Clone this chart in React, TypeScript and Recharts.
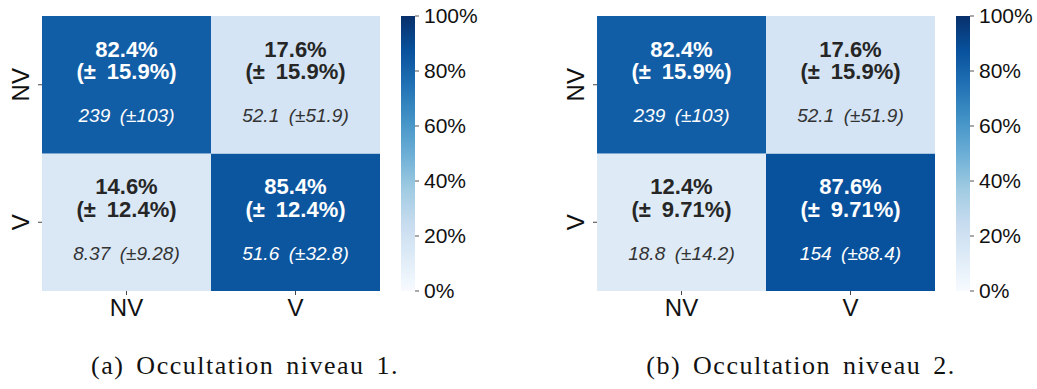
import React from "react";
import { BarChart, Bar, XAxis, YAxis } from "recharts";

const classes = ["NV", "V"];

// rows = true class, columns = predicted class
const pctA = [
  [82.4, 17.6],
  [14.6, 85.4],
];
const pctErrA = [
  [15.9, 15.9],
  [12.4, 12.4],
];
const countA = [
  [239, 52.1],
  [8.37, 51.6],
];
const countErrA = [
  [103, 51.9],
  [9.28, 32.8],
];

const pctB = [
  [82.4, 17.6],
  [12.4, 87.6],
];
const pctErrB = [
  [15.9, 15.9],
  [9.71, 9.71],
];
const countB = [
  [239, 52.1],
  [18.8, 154],
];
const countErrB = [
  [103, 51.9],
  [14.2, 88.4],
];

const colorbarTicks = [0, 20, 40, 60, 80, 100];
const captions = ["(a) Occultation niveau 1.", "(b) Occultation niveau 2."];

const blues = [
  "#f7fbff",
  "#deebf7",
  "#c6dbef",
  "#9ecae1",
  "#6baed6",
  "#4292c6",
  "#2171b5",
  "#08519c",
  "#08306b",
];

const hex = (h: string) => [1, 3, 5].map((i) => parseInt(h.slice(i, i + 2), 16));

function bluesAt(t: number) {
  const p = Math.max(0, Math.min(1, t)) * (blues.length - 1);
  const i = Math.min(Math.floor(p), blues.length - 2);
  const f = p - i;
  const a = hex(blues[i]);
  const b = hex(blues[i + 1]);
  const c = a.map((v, k) => Math.round(v + (b[k] - v) * f));
  return `rgb(${c[0]},${c[1]},${c[2]})`;
}

const sans = "'Liberation Sans', Arial, sans-serif";

interface HeatmapProps {
  pct: number[][];
  pctErr: number[][];
  count: number[][];
  countErr: number[][];
}

function makeShape(row: number, m: HeatmapProps) {
  return (props: any) => {
    const { x, y, width, height, payload } = props;
    const j = payload.col;
    const v = m.pct[row][j];
    const dark = v > 50;
    const txt = dark ? "#ffffff" : "#262626";
    const cx = x + width / 2;
    return (
      <g>
        <rect x={x} y={y} width={width} height={height} fill={bluesAt(v / 100)} />
        <text
          x={cx}
          y={y + height * 0.24}
          textAnchor="middle"
          dominantBaseline="central"
          fontFamily={sans}
          fontWeight="bold"
          fontSize={22}
          fill={txt}
        >
          {`${v.toPrecision(3)}%`}
        </text>
        <text
          x={cx}
          y={y + height * 0.405}
          textAnchor="middle"
          dominantBaseline="central"
          fontFamily={sans}
          fontWeight="bold"
          fontSize={22}
          fill={txt}
        >
          {`(±\u2002${m.pctErr[row][j]}%)`}
        </text>
        <text
          x={cx}
          y={y + height * 0.727}
          textAnchor="middle"
          dominantBaseline="central"
          fontFamily={sans}
          fontStyle="italic"
          fontSize={19}
          fill={dark ? "#ffffff" : "#333333"}
        >
          {`${m.count[row][j]}\u2002(±${m.countErr[row][j]})`}
        </text>
      </g>
    );
  };
}

const YTick = (props: any) => {
  const { y, payload } = props;
  return (
    <text
      x={20}
      y={y}
      transform={`rotate(-90 20 ${y})`}
      textAnchor="middle"
      dominantBaseline="central"
      fontFamily={sans}
      fontSize={24}
      fill="#111"
    >
      {payload.value < 1 ? classes[1] : classes[0]}
    </text>
  );
};

function Heatmap(props: HeatmapProps & { left: number }) {
  const data = classes.map((name, col) => ({ name, col, rowV: 1, rowNV: 1 }));
  return (
    <div style={{ position: "absolute", left: props.left, top: 0 }}>
      <BarChart
        width={400}
        height={330}
        data={data}
        margin={{ top: 16, right: 20, bottom: 0, left: 0 }}
        barCategoryGap={0}
        barGap={0}
      >
        <XAxis
          dataKey="name"
          height={39}
          tickSize={4}
          tickMargin={4}
          axisLine={false}
          tickLine={{ stroke: "#444" }}
          tick={{ fontFamily: sans, fontSize: 24, fill: "#111" }}
        />
        <YAxis
          type="number"
          domain={[0, 2]}
          ticks={[0.5, 1.5]}
          width={42}
          tickSize={4}
          axisLine={false}
          tickLine={{ stroke: "#444" }}
          tick={<YTick />}
        />
        <Bar dataKey="rowV" stackId="m" isAnimationActive={false} shape={makeShape(1, props)} />
        <Bar dataKey="rowNV" stackId="m" isAnimationActive={false} shape={makeShape(0, props)} />
      </BarChart>
    </div>
  );
}

function Colorbar({ left, id }: { left: number; id: string }) {
  return (
    <div style={{ position: "absolute", left, top: 0 }}>
      <BarChart
        width={84}
        height={330}
        data={[{ v: 100 }]}
        margin={{ top: 16, right: 0, bottom: 39, left: 0 }}
        barCategoryGap={0}
      >
        <defs>
          <linearGradient id={id} x1="0" y1="1" x2="0" y2="0">
            {blues.map((c, i) => (
              <stop key={i} offset={i / (blues.length - 1)} stopColor={c} />
            ))}
          </linearGradient>
        </defs>
        <XAxis hide />
        <YAxis
          orientation="right"
          type="number"
          domain={[0, 100]}
          ticks={colorbarTicks}
          width={70}
          tickSize={4}
          tickMargin={5}
          axisLine={false}
          tickLine={{ stroke: "#555" }}
          tickFormatter={(v: number) => `${v}%`}
          tick={{ fontFamily: sans, fontSize: 21, fill: "#111", textAnchor: "start" }}
        />
        <Bar dataKey="v" fill={`url(#${id})`} isAnimationActive={false} />
      </BarChart>
    </div>
  );
}

export default function App() {
  const captionStyle: React.CSSProperties = {
    position: "absolute",
    top: 351,
    width: 400,
    textAlign: "center",
    fontFamily: "'Liberation Serif', 'Times New Roman', serif",
    fontSize: 26,
    lineHeight: "30px",
    letterSpacing: 1.5,
    wordSpacing: 4,
    color: "#111",
    whiteSpace: "nowrap",
  };
  return (
    <div
      style={{
        position: "fixed",
        left: 0,
        top: 0,
        width: 1037,
        height: 389,
        background: "#fff",
        overflow: "hidden",
      }}
    >
      <Heatmap left={0} pct={pctA} pctErr={pctErrA} count={countA} countErr={countErrA} />
      <Colorbar left={401} id="bluesA" />
      <Heatmap left={555} pct={pctB} pctErr={pctErrB} count={countB} countErr={countErrB} />
      <Colorbar left={956} id="bluesB" />
      <div style={{ ...captionStyle, left: 245 - 200 }}>{captions[0]}</div>
      <div style={{ ...captionStyle, left: 801 - 200 }}>{captions[1]}</div>
    </div>
  );
}
